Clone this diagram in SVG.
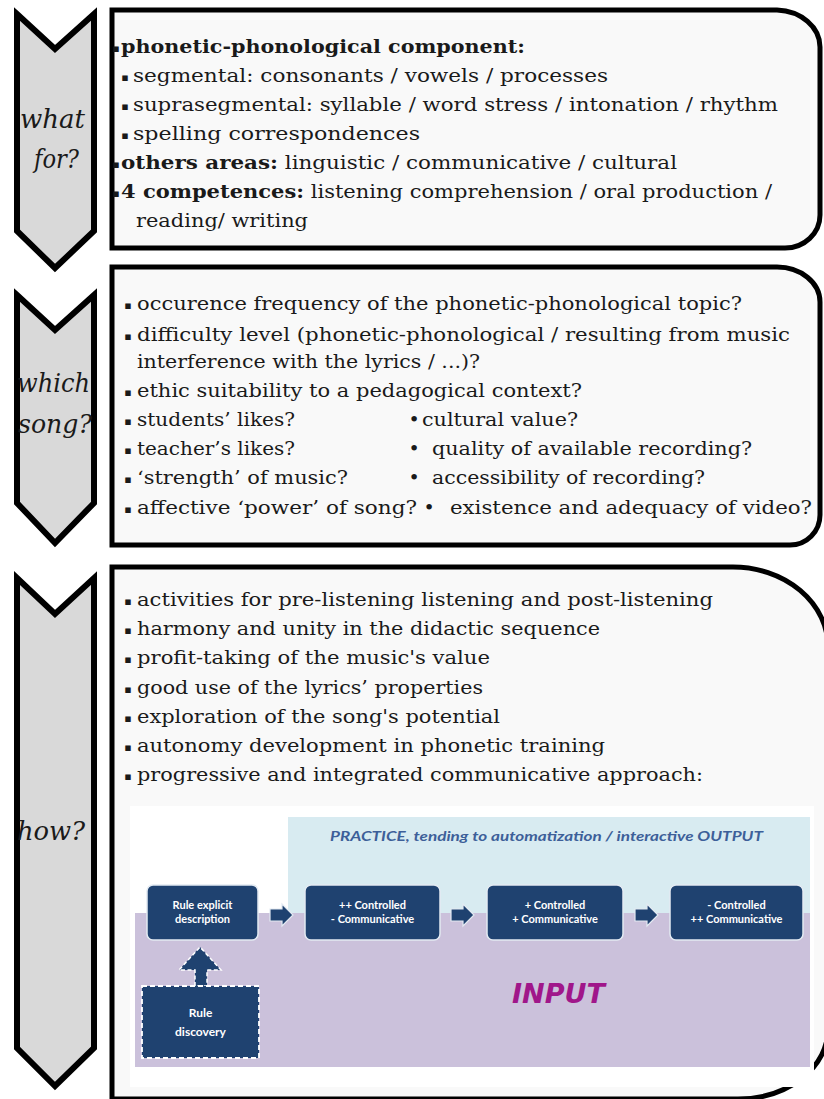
<svg xmlns="http://www.w3.org/2000/svg" width="824" height="1099" viewBox="0 0 824 1099">
<style>
.chev{fill:#d9d9d9;stroke:#000;stroke-width:6;stroke-linejoin:miter;stroke-miterlimit:10}
.box{fill:#f9f9f9;stroke:#000;stroke-width:5}
.t{font-family:"DejaVu Serif",serif;font-size:19px;fill:#1a1a1a}
.b{font-weight:bold}
.bul{font-family:"DejaVu Sans",sans-serif;font-size:11px;fill:#1a1a1a;text-anchor:middle}
.dot{font-family:"DejaVu Serif",serif;font-size:19px;fill:#1a1a1a;text-anchor:middle}
.lab{font-family:"DejaVu Serif",serif;font-style:italic;font-size:26px;fill:#1a1a1a}
.nav{fill:#1f4270;stroke:#e3eaf2;stroke-width:1.5}
.nt{font-family:Lato,sans-serif;font-weight:700;font-size:11px;fill:#fff;text-anchor:middle}
.arr{fill:#1f4270;stroke:#e3eaf2;stroke-width:1.2}
</style>

<g id="chevron-what-for">
<path class="chev" d="M17,14 L55,49 L94,14 L94,231 L55,268 L17,231 Z"/>
<text class="lab" x="20" y="128" textLength="65" lengthAdjust="spacingAndGlyphs">what</text>
<text class="lab" x="34" y="168" textLength="45" lengthAdjust="spacingAndGlyphs">for?</text>
</g>

<g id="chevron-which-song">
<path class="chev" d="M17,295 L55,330 L94,295 L94,503 L55,543 L17,503 Z"/>
<text class="lab" x="17" y="392" textLength="73" lengthAdjust="spacingAndGlyphs">which</text>
<text class="lab" x="18" y="433" textLength="74" lengthAdjust="spacingAndGlyphs">song?</text>
</g>

<g id="chevron-how">
<path class="chev" d="M17,578 L55,614 L94,578 L94,1048 L55,1086 L17,1048 Z"/>
<text class="lab" x="17" y="840" textLength="68" lengthAdjust="spacingAndGlyphs">how?</text>
</g>

<g id="box-what-for">
<path class="box" d="M112,10 H777 A45,37 0 0 1 820,47 V215 A35,33 0 0 1 785,248 H112 Z"/>
<text class="bul" x="116" y="52">▪</text>
<text class="t b" x="121" y="53" textLength="404" lengthAdjust="spacingAndGlyphs">phonetic-phonological component:</text>
<text class="bul" x="125" y="81">▪</text>
<text class="t" x="133" y="82" textLength="475" lengthAdjust="spacingAndGlyphs">segmental: consonants / vowels / processes</text>
<text class="bul" x="125" y="110">▪</text>
<text class="t" x="133" y="111" textLength="645" lengthAdjust="spacingAndGlyphs">suprasegmental: syllable / word stress / intonation / rhythm</text>
<text class="bul" x="125" y="139">▪</text>
<text class="t" x="133" y="140" textLength="287" lengthAdjust="spacingAndGlyphs">spelling correspondences</text>
<text class="bul" x="116" y="168">▪</text>
<text class="t" x="121" y="169" textLength="556" lengthAdjust="spacingAndGlyphs"><tspan class="b">others areas:</tspan> linguistic / communicative / cultural</text>
<text class="bul" x="116" y="197">▪</text>
<text class="t" x="121" y="198" textLength="651" lengthAdjust="spacingAndGlyphs"><tspan class="b">4 competences:</tspan> listening comprehension / oral production /</text>
<text class="t" x="136" y="227" textLength="172" lengthAdjust="spacingAndGlyphs">reading/ writing</text>
</g>

<g id="box-which-song">
<path class="box" d="M112,267 H777 A43,35 0 0 1 820,302 V515 A30,30 0 0 1 790,545 H112 Z"/>
<text class="bul" x="128" y="309">▪</text>
<text class="t" x="137" y="310" textLength="605" lengthAdjust="spacingAndGlyphs">occurence frequency of the phonetic-phonological topic?</text>
<text class="bul" x="128" y="340">▪</text>
<text class="t" x="137" y="341" textLength="653" lengthAdjust="spacingAndGlyphs">difficulty level (phonetic-phonological / resulting from music</text>
<text class="t" x="137" y="368" textLength="343" lengthAdjust="spacingAndGlyphs">interference with the lyrics / ...)?</text>
<text class="bul" x="128" y="396">▪</text>
<text class="t" x="137" y="397" textLength="445" lengthAdjust="spacingAndGlyphs">ethic suitability to a pedagogical context?</text>
<text class="bul" x="128" y="425">▪</text>
<text class="t" x="137" y="426" textLength="158" lengthAdjust="spacingAndGlyphs">students’ likes?</text>
<text class="dot" x="414" y="426">•</text>
<text class="t" x="422" y="426" textLength="156" lengthAdjust="spacingAndGlyphs">cultural value?</text>
<text class="bul" x="128" y="454">▪</text>
<text class="t" x="137" y="455" textLength="158" lengthAdjust="spacingAndGlyphs">teacher’s likes?</text>
<text class="dot" x="414" y="455">•</text>
<text class="t" x="432" y="455" textLength="320" lengthAdjust="spacingAndGlyphs">quality of available recording?</text>
<text class="bul" x="128" y="483">▪</text>
<text class="t" x="137" y="484" textLength="211" lengthAdjust="spacingAndGlyphs">‘strength’ of music?</text>
<text class="dot" x="414" y="484">•</text>
<text class="t" x="432" y="484" textLength="273" lengthAdjust="spacingAndGlyphs">accessibility of recording?</text>
<text class="bul" x="128" y="513">▪</text>
<text class="t" x="137" y="514" textLength="280" lengthAdjust="spacingAndGlyphs">affective ‘power’ of song?</text>
<text class="dot" x="429" y="514">•</text>
<text class="t" x="450" y="514" textLength="362" lengthAdjust="spacingAndGlyphs">existence and adequacy of video?</text>
</g>

<g id="box-how">
<path class="box" d="M112,567 H733 A95,80 0 0 1 828,647 V1029 A90,70 0 0 1 738,1099 H112 Z"/>
<text class="bul" x="128" y="605">▪</text>
<text class="t" x="137" y="606" textLength="576" lengthAdjust="spacingAndGlyphs">activities for pre-listening  listening  and post-listening</text>
<text class="bul" x="128" y="634">▪</text>
<text class="t" x="137" y="635" textLength="463" lengthAdjust="spacingAndGlyphs">harmony and unity in the didactic sequence</text>
<text class="bul" x="128" y="663">▪</text>
<text class="t" x="137" y="664" textLength="353" lengthAdjust="spacingAndGlyphs">profit-taking of the music's value</text>
<text class="bul" x="128" y="693">▪</text>
<text class="t" x="137" y="694" textLength="346" lengthAdjust="spacingAndGlyphs">good use of the lyrics’ properties</text>
<text class="bul" x="128" y="722">▪</text>
<text class="t" x="137" y="723" textLength="363" lengthAdjust="spacingAndGlyphs">exploration of the song's potential</text>
<text class="bul" x="128" y="751">▪</text>
<text class="t" x="137" y="752" textLength="468" lengthAdjust="spacingAndGlyphs">autonomy development in phonetic training</text>
<text class="bul" x="128" y="780">▪</text>
<text class="t" x="137" y="781" textLength="566" lengthAdjust="spacingAndGlyphs">progressive and integrated communicative approach:</text>
</g>

<g id="figure-background">
<rect x="130" y="806" width="684" height="281" fill="#ffffff"/>
<rect x="288" y="817" width="522" height="96" fill="#d8ebf1"/>
<rect x="135" y="913" width="675" height="154" fill="#cbc1db"/>
<text x="330" y="841" textLength="433" lengthAdjust="spacingAndGlyphs" style="font-family:Lato,sans-serif;font-weight:700;font-style:italic;font-size:13px;fill:#3d5f99">PRACTICE, tending to automatization / interactive OUTPUT</text>
<text x="512" y="1003" textLength="93" lengthAdjust="spacingAndGlyphs" style="font-family:'DejaVu Sans',sans-serif;font-weight:700;font-style:italic;font-size:26px;fill:#a0168a">INPUT</text>
</g>

<g id="connectors">
<path class="arr" d="M270,909 H282 V904 L293,915 L282,926 V921 H270 Z"/>
<path class="arr" d="M451,909 H463 V904 L474,915 L463,926 V921 H451 Z"/>
<path class="arr" d="M635,909 H647 V904 L658,915 L647,926 V921 H635 Z"/>
<path d="M195,986 V970 H179 L200,947 L221,970 H207 V986 Z" fill="#1f4270" stroke="#ffffff" stroke-width="1.5" stroke-dasharray="4 2.5"/>
</g>

<g id="node-rule-explicit">
<rect class="nav" x="147" y="885" width="111" height="55" rx="6"/>
<text class="nt" x="202.5" y="909">Rule explicit</text>
<text class="nt" x="202.5" y="923">description</text>
</g>

<g id="node-controlled-1">
<rect class="nav" x="305" y="885" width="135" height="55" rx="6"/>
<text class="nt" x="372.5" y="909">++ Controlled</text>
<text class="nt" x="372.5" y="923">- Communicative</text>
</g>

<g id="node-controlled-2">
<rect class="nav" x="487" y="885" width="136" height="55" rx="6"/>
<text class="nt" x="555" y="909">+ Controlled</text>
<text class="nt" x="555" y="923">+ Communicative</text>
</g>

<g id="node-controlled-3">
<rect class="nav" x="670" y="885" width="133" height="55" rx="6"/>
<text class="nt" x="736.5" y="909">- Controlled</text>
<text class="nt" x="736.5" y="923">++ Communicative</text>
</g>

<g id="node-rule-discovery">
<rect x="142" y="986" width="117" height="72" fill="#1f4270" stroke="#ffffff" stroke-width="1.8" stroke-dasharray="5 3"/>
<text class="nt" x="200.5" y="1017" style="font-size:12px">Rule</text>
<text class="nt" x="200.5" y="1036" style="font-size:12px">discovery</text>
</g>
</svg>
